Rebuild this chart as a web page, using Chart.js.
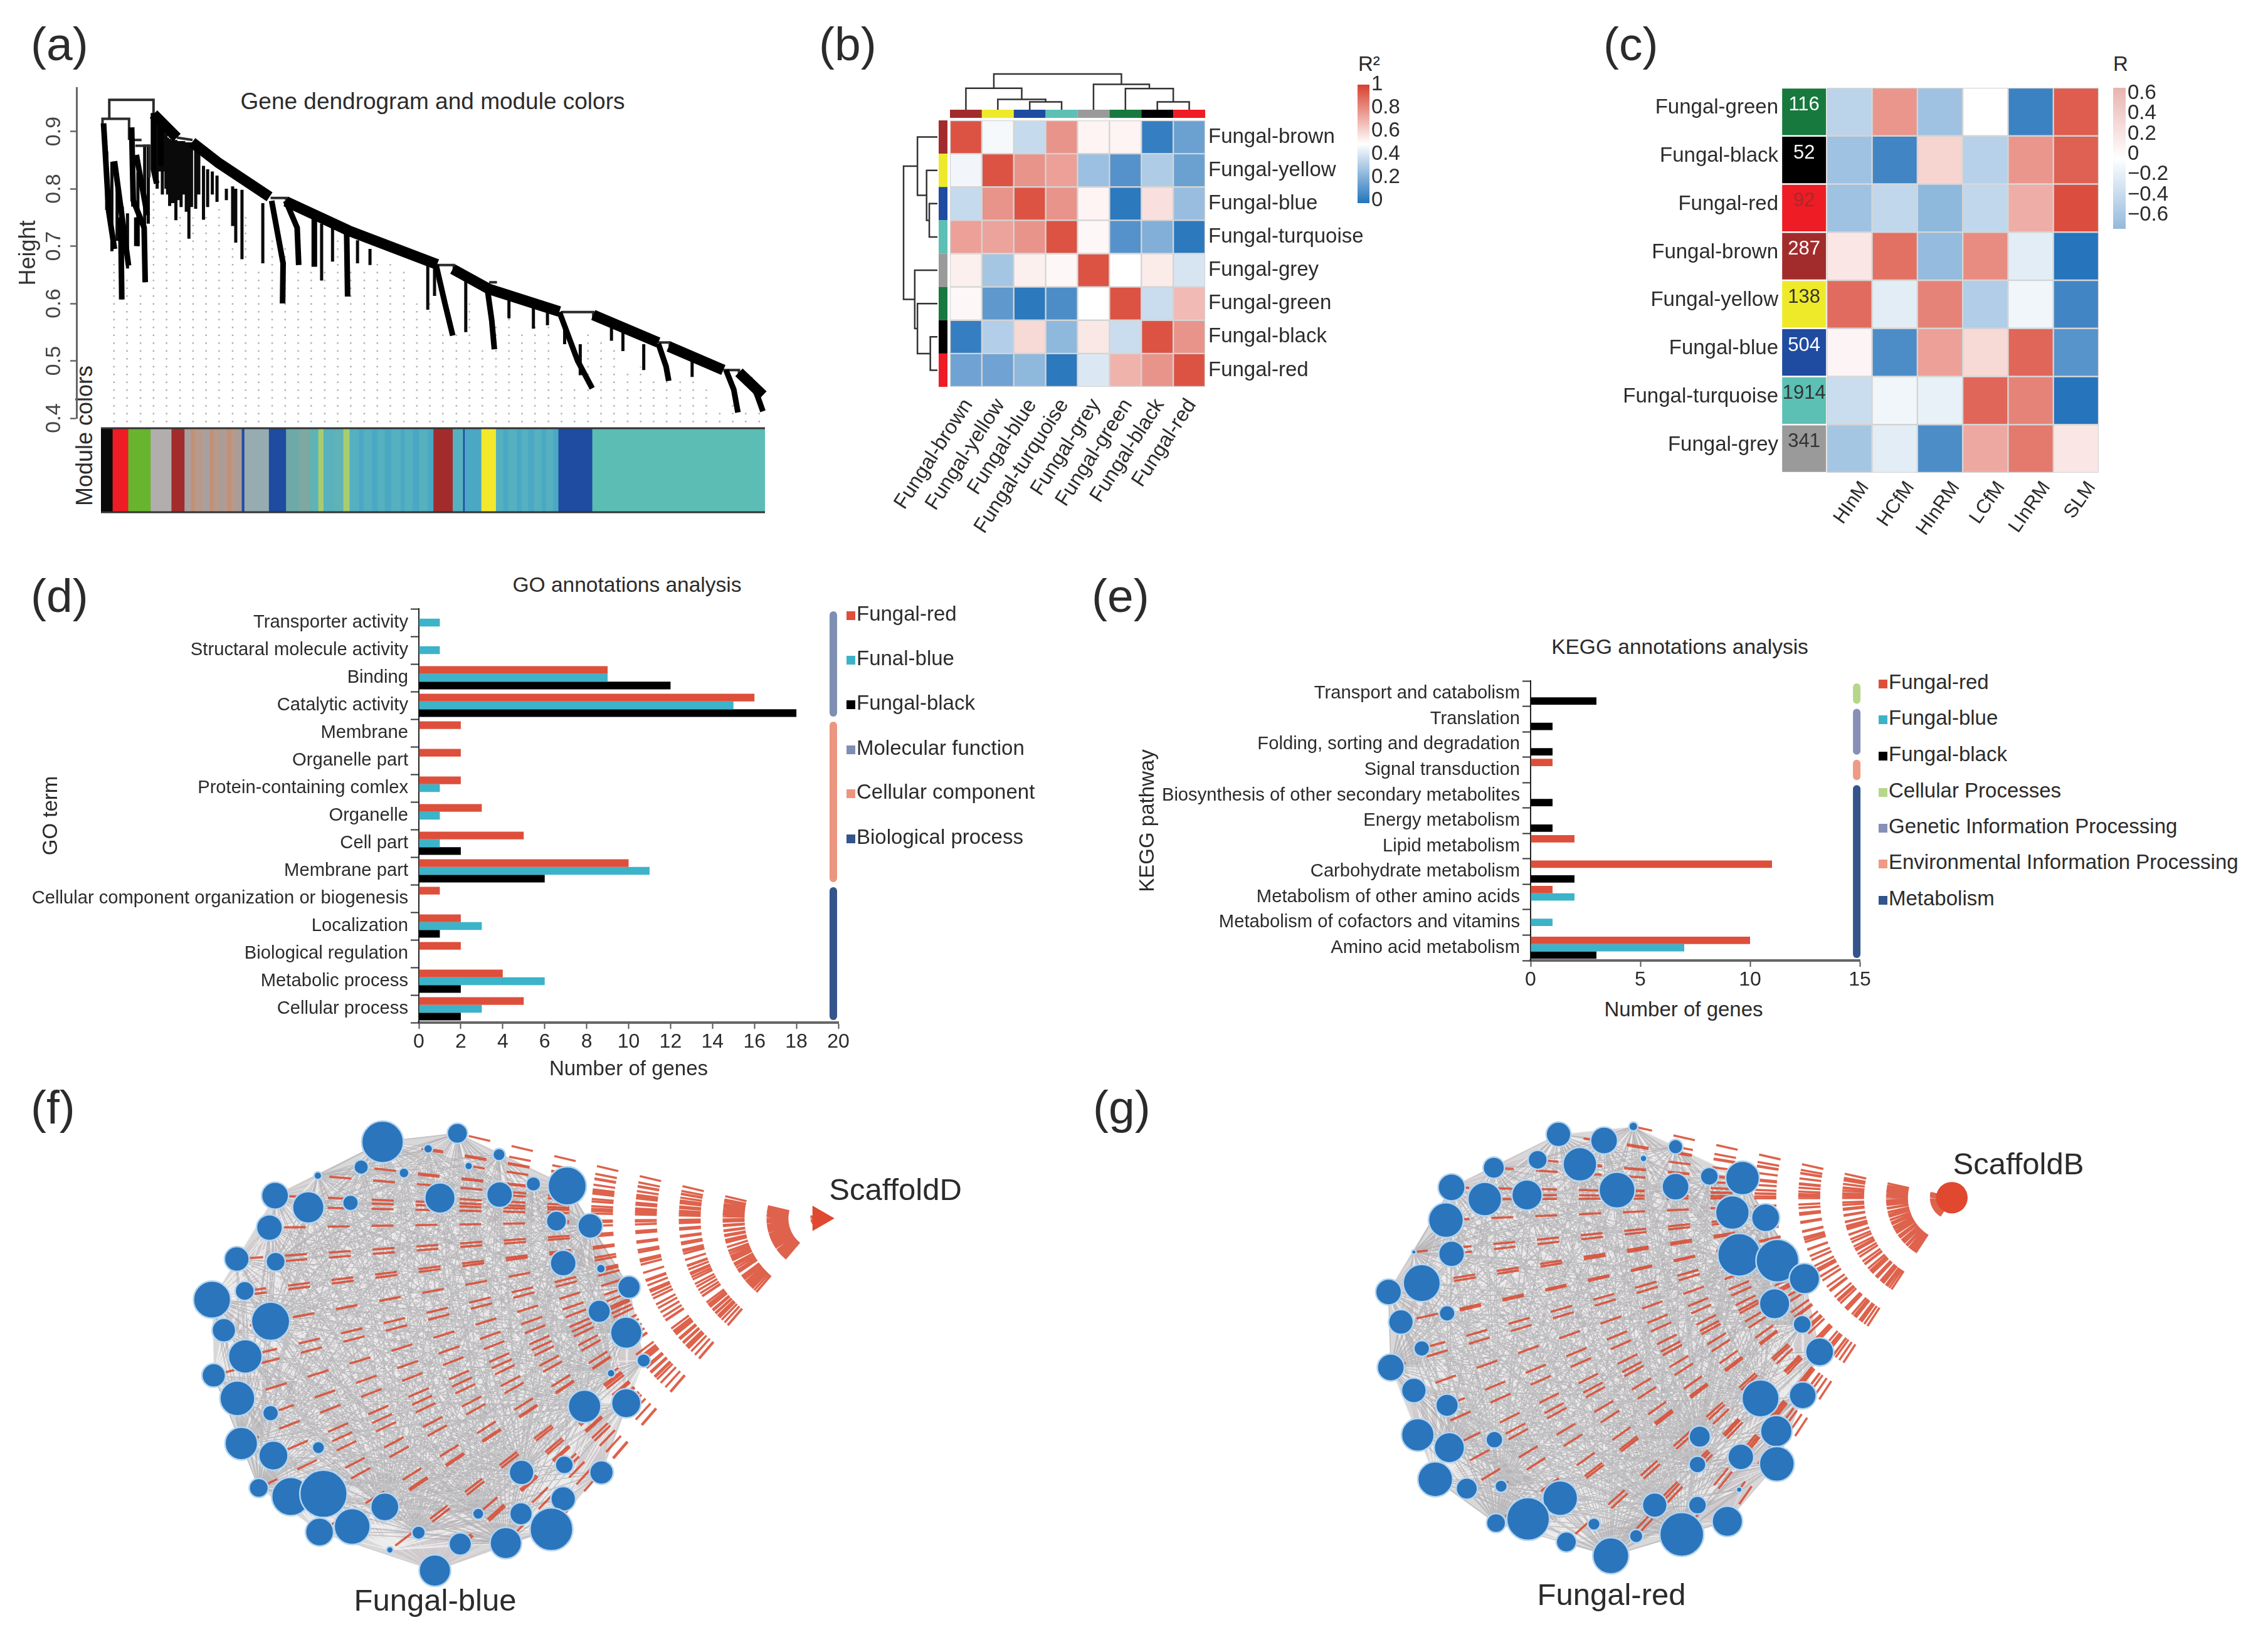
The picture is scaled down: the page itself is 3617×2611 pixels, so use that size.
<!DOCTYPE html>
<html>
<head>
<meta charset="utf-8">
<style>
  html, body { margin: 0; padding: 0; background: #fff; }
  #fig { position: relative; width: 3617px; height: 2611px; overflow: hidden; font-family: "Liberation Sans", Arial, sans-serif; color: #2b2b2b; }
  #fig canvas { position: absolute; }
  #fig .txt { position: absolute; white-space: nowrap; line-height: 1; }
  #fig .sq { position: absolute; width: 14px; height: 14px; }
</style>
<script src="https://cdn.jsdelivr.net/npm/chart.js@4.4.0/dist/chart.umd.js"></script>
</head>
<body>
<div id="fig"></div>
<script>
// (a) dendrogram, heights
const heightTicks = [0.4, 0.5, 0.6, 0.7, 0.8, 0.9];
const backbones = [
  [[295, .93], [340, .889]],
  [[369, .881], [420, .845], [518, .786]],
  [[549, .778], [670, .727], [840, .668]],
  [[870, .66], [940, .625], [1075, .586]],
  [[1140, .58], [1265, .532]],
  [[1285, .525], [1390, .484]],
  [[1420, .48], [1466, .44]]
];
const heavyArcs = [
  [[199, .914], [209, .76], [220, .695]],
  [[220, .848], [232, .768], [247, .666]],
  [[232, .75], [234, .607]],
  [[253, .907], [256, .78], [277, .732], [279, .637]],
  [[262, .859], [283, .754]],
  [[263, .75], [263, .70]],
  [[295, .932], [295, .834], [301, .809]],
  [[309, .914], [309, .84]],
  [[522, .779], [544, .67], [543, .60]],
  [[549, .779], [571, .732], [574, .667]],
  [[604, .75], [604, .664]],
  [[666, .732], [668, .612]],
  [[838, .667], [855, .60], [870, .544]],
  [[935, .635], [945, .57], [950, .52]],
  [[1075, .585], [1110, .50], [1138, .452]],
  [[1265, .53], [1280, .49], [1285, .465]],
  [[1395, .484], [1410, .45], [1418, .41]],
  [[1440, .47], [1455, .44], [1466, .412]]
];
const frameLines = [
  [[197, .91], [197, .922], [248, .922], [248, .885]],
  [[210, .922], [210, .955], [295, .955], [295, .93]],
  [[255, .885], [272, .885]],
  [[260, .875], [287, .875], [287, .82]],
  [[340, .889], [370, .885]],
  [[520, .784], [550, .784], [550, .775]],
  [[838, .667], [872, .667], [872, .655]],
  [[940, .637], [955, .637]],
  [[1078, .585], [1140, .585], [1140, .575]],
  [[1265, .532], [1287, .532], [1287, .52]],
  [[1390, .484], [1420, .484], [1420, .475]]
];
const branchX = [205, 215, 225, 235, 245, 255, 265, 278, 285, 302, 306, 312, 315, 319, 322, 326, 328, 333, 338, 343, 348, 353, 358, 363, 368, 376, 382, 391, 399, 408, 417, 435, 447, 453, 465, 505, 618, 639, 687, 711, 822, 835, 895, 978, 1025, 1052, 1085, 1115, 1175, 1197, 1237, 1330];
const branchTop = [.865, .847, .805, .769, .757, .889, .829, .877, .877, .925, .92, .915, .90, .895, .889, .887, .885, .885, .885, .883, .883, .883, .881, .881, .881, .878, .87, .84, .834, .83, .823, .80, .804, .80, .798, .775, .739, .732, .71, .695, .667, .661, .649, .607, .595, .589, .559, .529, .571, .562, .529, .505];
const branchBottom = [.763, .691, .709, .607, .661, .769, .700, .637, .739, .80, .83, .79, .83, .80, .79, .77, .775, .775, .745, .78, .768, .79, .76, .713, .768, .765, .79, .746, .768, .79, .777, .78, .735, .706, .677, .67, .64, .673, .67, .667, .589, .613, .550, .574, .556, .562, .529, .475, .535, .517, .484, .472];
const guideX = [219, 244, 270, 295, 320, 346, 371, 396, 421, 447, 472, 497, 523, 548, 573, 598, 624, 649, 674, 700, 725, 750, 776, 801, 826, 851, 877, 902, 927, 953, 978, 1003, 1028, 1054, 1079, 1104, 1130, 1155, 1180, 1206, 1231, 1256, 1281, 1307, 1332, 1357, 1383, 1408, 1433, 1459];
const guideTop = [.68, .65, .62, .80, .76, .76, .75, .76, .77, .70, .76, .66, .72, .70, .66, .66, .66, .72, .66, .66, .68, .67, .66, .60, .60, .55, .55, .60, .52, .57, .59, .555, .56, .57, .50, .46, .55, .535, .52, .485, .49, .47, .48, .47, .47, .45, .41, .43, .41, .41];
const stripModules = ['black', 'red', 'lime', 'greyLight', 'brown',
  'greyA', 'greyC', 'greyB', 'greyD', 'greyA', 'greyC', 'greyB', 'greyE', 'greyD', 'greyC', 'greyB', 'greyE',
  'blue', 'greyTeal', 'blue', 'tealA', 'tealB', 'tealC', 'olive', 'tealD', 'tealC', 'olive',
  'skyA', 'skyB', 'skyA', 'skyB', 'skyA', 'skyB', 'skyA', 'skyB', 'skyA', 'skyB', 'skyA', 'skyB',
  'brown', 'skyA', 'blue', 'skyB', 'yellow',
  'skyA', 'skyB', 'skyA', 'skyB', 'skyA', 'skyB', 'skyA', 'skyB', 'skyA', 'skyB',
  'blue', 'turquoise'];
const stripWidths = [22, 30, 43, 40, 25,
  12, 8, 10, 8, 10, 8, 10, 8, 8, 8, 8, 12,
  5, 47, 33, 25, 20, 17, 10, 20, 18, 12,
  18, 9, 16, 11, 14, 12, 18, 8, 15, 13, 16, 11,
  37, 20, 3, 32, 28,
  14, 10, 16, 9, 13, 11, 15, 8, 14, 10,
  65, 332];

// (b) module correlation, R squared
const moduleNames = ['Fungal-brown', 'Fungal-yellow', 'Fungal-blue', 'Fungal-turquoise', 'Fungal-grey', 'Fungal-green', 'Fungal-black', 'Fungal-red'];
const brownRow = [.95, .48, .37, .78, .53, .53, .05, .17];
const yellowRow = [.47, .95, .78, .75, .28, .12, .32, .17];
const blueRow = [.37, .78, .95, .78, .53, .03, .58, .27];
const turquoiseRow = [.75, .74, .78, .95, .52, .12, .22, .03];
const greyRow = [.54, .30, .54, .52, .95, .50, .55, .41];
const greenRow = [.52, .14, .03, .10, .50, .95, .38, .68];
const blackRow = [.05, .33, .60, .25, .56, .38, .95, .78];
const redRow = [.18, .18, .25, .03, .42, .70, .78, .95];
const r2Rows = [brownRow, yellowRow, blueRow, turquoiseRow, greyRow, greenRow, blackRow, redRow];
const r2Ticks = [0, 0.2, 0.4, 0.6, 0.8, 1];
// [leaf a, leaf b, height a, height b, merge height]
const topMerges = [[2.5, 3.5, 0, 0, .22], [1.5, 3, 0, .22, .29], [.5, 2.25, 0, .29, .6], [6.5, 7.5, 0, 0, .22], [5.5, 7, 0, .22, .59], [4.5, 6.25, 0, .59, .71], [1.375, 5.375, .6, .71, 1]];
const sideMerges = [[2.5, 3.5, 0, 0, .24], [1.5, 3, 0, .24, .32], [.5, 2.25, 0, .32, .59], [6.5, 7.5, 0, 0, .21], [5.5, 7, 0, .21, .59], [4.5, 6.25, 0, .59, .67], [1.375, 5.375, .59, .67, 1]];

// (c) module vs compartment, R
const traitNames = ['', 'HInM', 'HCfM', 'HInRM', 'LCfM', 'LInRM', 'SLM'];
const traitModules = ['Fungal-green', 'Fungal-black', 'Fungal-red', 'Fungal-brown', 'Fungal-yellow', 'Fungal-blue', 'Fungal-turquoise', 'Fungal-grey'];
const moduleGenes = [116, 52, 92, 287, 138, 504, 1914, 341];
const traitR = [
  [-.24, .44, -.34, 0, -.70, .68],
  [-.34, -.68, .18, -.26, .44, .66],
  [-.34, -.22, -.40, -.22, .34, .74],
  [.10, .60, -.38, .48, -.10, -.78],
  [.62, -.10, .52, -.28, -.05, -.68],
  [.04, -.64, .40, .16, .64, -.60],
  [-.19, -.05, -.08, .64, .52, -.78],
  [-.32, -.10, -.64, .36, .56, .10]
];
const rTicks = [-0.6, -0.4, -0.2, 0, 0.2, 0.4, 0.6];

// (d) GO terms
const goTerms = ['Transporter activity', 'Structaral molecule activity', 'Binding', 'Catalytic activity', 'Membrane', 'Organelle part', 'Protein-containing comlex', 'Organelle', 'Cell part', 'Membrane part', 'Cellular component organization or biogenesis', 'Localization', 'Biological regulation', 'Metabolic process', 'Cellular process'];
const goRed = [0, 0, 9, 16, 2, 2, 2, 3, 5, 10, 1, 2, 2, 4, 5];
const goBlue = [1, 1, 9, 15, 0, 0, 1, 1, 1, 11, 0, 3, 0, 6, 3];
const goBlack = [0, 0, 12, 18, 0, 0, 0, 0, 2, 6, 0, 1, 0, 2, 2];
const goSeries = ['Fungal-red', 'Funal-blue', 'Fungal-black'];
const goClasses = ['Molecular function', 'Cellular component', 'Biological process'];
const goClassFirst = [0, 4, 10];
const goClassLast = [3, 9, 14];

// (e) KEGG pathways
const keggTerms = ['Transport and catabolism', 'Translation', 'Folding, sorting and degradation', 'Signal transduction', 'Biosynthesis of other secondary metabolites', 'Energy metabolism', 'Lipid metabolism', 'Carbohydrate metabolism', 'Metabolism of other amino acids', 'Metabolism of cofactors and vitamins', 'Amino acid metabolism'];
const keggRed = [0, 0, 0, 1, 0, 0, 2, 11, 1, 0, 10];
const keggBlue = [0, 0, 0, 0, 0, 0, 0, 0, 2, 1, 7];
const keggBlack = [3, 1, 1, 0, 1, 1, 0, 2, 0, 0, 3];
const keggSeries = ['Fungal-red', 'Fungal-blue', 'Fungal-black'];
const keggClasses = ['Cellular Processes', 'Genetic Information Processing', 'Environmental Information Processing', 'Metabolism'];
const keggClassFirst = [0, 1, 3, 4];
const keggClassLast = [0, 2, 3, 10];

// (f) Fungal-blue network
const blueNodeX = [457, 590, 538, 664, 419, 495, 610, 342, 725, 785, 665, 559, 266, 325, 400, 766, 826, 256, 198, 267, 778, 845, 895, 154, 212, 258, 842, 175, 890, 213, 921, 863, 157, 199, 816, 890, 258, 206, 263, 343, 704, 780, 846, 237, 294, 352, 461, 778, 703, 627, 345, 403, 521, 757, 595, 676, 470, 550];
const blueNodeY = [130, 105, 150, 167, 203, 220, 200, 228, 252, 258, 283, 293, 286, 320, 307, 360, 374, 379, 470, 478, 482, 498, 552, 588, 563, 651, 622, 677, 684, 753, 765, 802, 808, 875, 898, 889, 918, 1006, 1041, 1018, 1090, 1068, 1090, 1135, 1160, 1152, 1190, 1167, 1210, 1210, 1263, 1247, 1265, 1255, 1298, 1295, 1315, 1375];
const blueNodeR = [37, 18, 8, 11, 13, 9, 7, 7, 13, 34, 23, 27, 24, 28, 14, 18, 22, 23, 22, 17, 23, 8, 20, 33, 17, 34, 20, 21, 28, 30, 12, 7, 21, 31, 29, 26, 14, 29, 26, 11, 22, 16, 21, 17, 34, 42, 25, 22, 20, 10, 25, 32, 12, 38, 20, 28, 6, 28];
const scaffoldD = [1234, 352, 26];

// (g) Fungal-red network
const redNodeX = [541, 622, 674, 749, 504, 692, 426, 579, 868, 809, 645, 749, 351, 410, 485, 850, 909, 341, 351, 284, 862, 930, 978, 298, 239, 925, 343, 261, 974, 298, 1005, 243, 284, 343, 900, 975, 291, 347, 427, 928, 792, 865, 929, 788, 322, 378, 439, 544, 862, 712, 788, 487, 430, 604, 841, 760, 555, 679, 634];
const redNodeY = [108, 126, 85, 144, 182, 178, 205, 195, 235, 230, 270, 260, 262, 296, 284, 335, 350, 357, 455, 450, 458, 475, 527, 540, 566, 600, 628, 653, 660, 730, 740, 785, 852, 895, 875, 866, 981, 1018, 995, 970, 986, 1045, 1065, 1067, 1110, 1137, 1130, 1165, 1140, 1185, 1185, 1225, 1237, 1240, 1232, 1270, 1292, 1275, 1332];
const redNodeR = [22, 24, 8, 13, 17, 6, 19, 30, 30, 16, 32, 24, 24, 30, 27, 30, 25, 31, 23, 4, 38, 38, 27, 33, 23, 27, 14, 22, 16, 14, 25, 24, 22, 20, 33, 24, 29, 27, 15, 28, 19, 23, 31, 15, 31, 19, 11, 31, 5, 22, 16, 38, 17, 11, 27, 39, 18, 12, 32];
const scaffoldB = [1240, 292, 28];

const fig = document.getElementById('fig');
Chart.defaults.font.family = '"Liberation Sans", Arial, sans-serif';
Chart.defaults.color = '#2b2b2b';

const moduleColor = {
  'Fungal-brown': '#a22c2c', 'Fungal-yellow': '#eeea2a', 'Fungal-blue': '#1f4ba0', 'Fungal-turquoise': '#5cc0b4',
  'Fungal-grey': '#9a9a9a', 'Fungal-green': '#17793d', 'Fungal-black': '#000000', 'Fungal-red': '#ee1c25'
};
const stripPalette = {
  black: '#0a0a0a', red: '#ee1c25', lime: '#68b42e', greyLight: '#b3aeae', brown: '#a22c2c', greyA: '#a8a0a0', greyB: '#b89a8a', greyC: '#c09078', greyD: '#b39b92', greyE: '#aa9c98',
  blue: '#1f4ba0', greyTeal: '#96acb0', tealA: '#6ea9a8', tealB: '#7fa8a0', tealC: '#5fb2b5', tealD: '#5ab0bd', olive: '#a8cc70', skyA: '#55b0c0', skyB: '#4aa8c4', yellow: '#f3e92c', turquoise: '#5cbdb4'
};
const seriesRed = '#dd4f3b', seriesBlue = '#3db3c9', seriesBlack = '#000000';
const classColors = ['#7f8fb3', '#ec9580', '#34548c'];
const keggClassColors = ['#b6d68a', '#8690b8', '#ee9a85', '#34548c'];

function addText(str, x, y, size, o) {
  o = o || {};
  const d = document.createElement('div');
  d.className = 'txt';
  d.textContent = str;
  d.style.left = x + 'px';
  d.style.top = y + 'px';
  d.style.fontSize = size + 'px';
  const ax = o.anchor === 'center' ? '-50%' : (o.anchor === 'right' ? '-100%' : '0');
  d.style.transform = `translate(${ax}, -50%)` + (o.rotate ? ` rotate(${o.rotate}deg)` : '');
  fig.appendChild(d);
}

// canvas around a plot box, m = margins kept for axes
function addCanvas(l, t, r, b, m) {
  m = Object.assign({ left: 0, right: 0, top: 0, bottom: 0 }, m);
  const c = document.createElement('canvas');
  c.width = r - l + m.left + m.right;
  c.height = b - t + m.top + m.bottom;
  c.style.left = (l - m.left) + 'px';
  c.style.top = (t - m.top) + 'px';
  fig.appendChild(c);
  return c;
}

const fitBox = size => s => {
  if (s.isHorizontal()) s.height = size; else s.width = size;
  s.paddingLeft = s.paddingRight = s.paddingTop = s.paddingBottom = 0;
};

const baseOpts = o => Object.assign({
  responsive: false, animation: false, events: [], devicePixelRatio: 1
}, o, {
  layout: Object.assign({ autoPadding: false }, o.layout),
  plugins: Object.assign({ legend: { display: false }, tooltip: { enabled: false } }, o.plugins)
});

const polylines = list => list.flatMap(line => [...line.map(p => ({ x: p[0], y: p[1] })), { x: NaN, y: NaN }]);
const lineSet = (data, color, width, extra) => Object.assign({
  data, borderColor: color, borderWidth: width, showLine: true, pointRadius: 0, fill: false, clip: false
}, extra);

function mix(a, b, t) {
  const p = h => [1, 3, 5].map(i => parseInt(h.substr(i, 2), 16));
  const ca = p(a), cb = p(b);
  return `rgb(${ca.map((v, i) => Math.round(v + (cb[i] - v) * t)).join(',')})`;
}
const ramp = t => t >= 0 ? mix('#ffffff', '#d8402f', Math.min(t, 1)) : mix('#ffffff', '#1f70ba', Math.min(-t, 1));

// ---------- (a) ----------
addText('(a)', 49, 70, 75);
addText('Gene dendrogram and module colors', 690, 161, 37, { anchor: 'center' });
addText('Module colors', 135, 695, 36, { anchor: 'center', rotate: -90 });

const rotatedTicks = {
  id: 'rotatedTicks',
  afterDraw(chart) {
    const { ctx, scales: { y } } = chart;
    heightTicks.forEach(v => {
      ctx.save();
      ctx.translate(87, y.getPixelForValue(v));
      ctx.rotate(-Math.PI / 2);
      ctx.font = '34px "Liberation Sans"';
      ctx.fillStyle = '#444';
      ctx.textAlign = 'center';
      ctx.textBaseline = 'middle';
      ctx.fillText(String(v), 0, 0);
      ctx.restore();
    });
  }
};

new Chart(addCanvas(122, 140, 1220, 667, { left: 122, top: 2, bottom: 32, right: 10 }), {
  type: 'scatter',
  data: {
    datasets: [
      lineSet(polylines(backbones), '#000', 17, { order: 1 }),
      lineSet(polylines(heavyArcs), '#000', 9, { order: 2 }),
      lineSet(polylines(frameLines), '#2c2c2c', 4, { order: 3 }),
      lineSet(polylines(branchX.map((x, i) => [[x, branchTop[i]], [x, branchBottom[i]]])), '#0a0a0a', 5, { order: 4 }),
      lineSet(polylines(guideX.map((x, i) => [[x, .393], [x, guideTop[i]]])), '#b0b0b0', 2.5, { order: 5, borderDash: [2.5, 10] })
    ]
  },
  options: baseOpts({
    layout: { padding: { top: 2, bottom: 32, right: 10 } },
    scales: {
      x: { type: 'linear', display: false, min: 147, max: 1470 },
      y: {
        min: .4, max: .976,
        afterFit: fitBox(122),
        afterBuildTicks: s => { s.ticks = heightTicks.map(value => ({ value })); },
        ticks: { display: false },
        grid: { display: true, drawOnChartArea: false, tickLength: 10, tickColor: '#666', tickWidth: 2.5 },
        border: { color: '#666', width: 3 },
        title: { display: true, text: 'Height', font: { size: 36 }, color: '#333', padding: { top: 24, bottom: 0 } }
      }
    }
  }),
  plugins: [rotatedTicks]
});

const stripFrame = {
  id: 'stripFrame',
  afterDraw(chart) {
    const { ctx, chartArea: a } = chart;
    ctx.save();
    ctx.strokeStyle = '#333';
    ctx.lineWidth = 3;
    ctx.beginPath();
    ctx.moveTo(a.left, a.top); ctx.lineTo(a.right, a.top);
    ctx.moveTo(a.left, a.bottom); ctx.lineTo(a.right, a.bottom);
    ctx.stroke();
    ctx.restore();
  }
};

new Chart(addCanvas(161, 683, 1220, 817, { top: 2, bottom: 2 }), {
  type: 'bar',
  data: {
    labels: ['Module colors'],
    datasets: stripModules.map((m, i) => ({ data: [stripWidths[i]], backgroundColor: stripPalette[m], barPercentage: 1, categoryPercentage: 1, stack: 'modules' }))
  },
  options: baseOpts({
    indexAxis: 'y',
    layout: { padding: { top: 2, bottom: 2 } },
    scales: {
      x: { display: false, stacked: true, min: 0, max: 1275 },
      y: { display: false, stacked: true }
    }
  }),
  plugins: [stripFrame]
});

// ---------- (b) ----------
addText('(b)', 1306, 70, 75);
addText('R²', 2166, 101, 33);

const moduleStrips = {
  id: 'moduleStrips',
  beforeDraw(chart) {
    const { ctx, scales: { x, y }, chartArea: a } = chart;
    const w = x.getPixelForValue(1) - x.getPixelForValue(0);
    const h = y.getPixelForValue(1) - y.getPixelForValue(0);
    moduleNames.forEach((m, i) => {
      ctx.fillStyle = moduleColor[m];
      ctx.fillRect(x.getPixelForValue(i) - w / 2, a.top - 17, w, 13);
      ctx.fillRect(a.left - 18, y.getPixelForValue(i), 14, h);
    });
  }
};

new Chart(addCanvas(1515, 192, 1922, 617, { left: 120, top: 20, right: 270, bottom: 240 }), {
  type: 'bar',
  data: {
    labels: moduleNames,
    datasets: r2Rows.map(row => ({
      data: row.map(() => 1),
      backgroundColor: row.map(v => ramp((v - .5) * 2)),
      borderColor: '#d4d4d4', borderWidth: 1.5, borderSkipped: false,
      barPercentage: 1, categoryPercentage: 1
    }))
  },
  options: baseOpts({
    layout: { padding: { left: 120, top: 20 } },
    scales: {
      x: {
        stacked: true,
        afterFit: fitBox(240),
        grid: { display: false, drawTicks: false }, border: { display: false },
        ticks: { autoSkip: false, minRotation: 57, maxRotation: 57, font: { size: 33 }, padding: 12, labelOffset: 4 }
      },
      y: {
        stacked: true, position: 'right', min: 0, max: 8, reverse: true,
        afterFit: fitBox(270),
        afterBuildTicks: s => { s.ticks = moduleNames.map((_, i) => ({ value: i + .5 })); },
        grid: { display: false, drawTicks: false }, border: { display: false },
        ticks: { autoSkip: false, font: { size: 33 }, padding: 5, callback: v => moduleNames[Math.floor(v)] }
      }
    }
  }),
  plugins: [moduleStrips]
});

function dendroChart(canvas, merges, sideways) {
  const lines = merges.map(m => {
    const u = [[m[0], m[2]], [m[0], m[4]], [m[1], m[4]], [m[1], m[3]]];
    return sideways ? u.map(p => [p[1], p[0]]) : u;
  });
  const leafAxis = { type: 'linear', display: false, min: 0, max: 8, reverse: sideways };
  const heightAxis = { type: 'linear', display: false, min: 0, max: 1, reverse: sideways };
  new Chart(canvas, {
    type: 'scatter',
    data: { datasets: [lineSet(polylines(lines), '#333', 2.5)] },
    options: baseOpts({
      layout: { padding: 2 },
      scales: sideways ? { x: heightAxis, y: leafAxis } : { x: leafAxis, y: heightAxis }
    })
  });
}
dendroChart(addCanvas(1513, 116, 1924, 177), topMerges, false);
dendroChart(addCanvas(1439, 190, 1497, 619), sideMerges, true);

function colorBar(l, t, r, b, lo, hi, stops, ticks, fmt) {
  new Chart(addCanvas(l, t, r, b, { right: 110, top: 20, bottom: 20 }), {
    type: 'bar',
    data: {
      labels: ['scale'],
      datasets: [{
        data: [[lo, hi]], barPercentage: 1, categoryPercentage: 1, borderSkipped: false,
        backgroundColor: c => {
          const a = c.chart.chartArea;
          if (!a) return stops[0];
          const g = c.chart.ctx.createLinearGradient(0, a.bottom, 0, a.top);
          stops.forEach((s, i) => g.addColorStop(i / (stops.length - 1), s));
          return g;
        }
      }]
    },
    options: baseOpts({
      layout: { padding: { top: 20, bottom: 20 } },
      scales: {
        x: { display: false },
        y: {
          position: 'right', min: lo, max: hi,
          afterFit: fitBox(110),
          afterBuildTicks: s => { s.ticks = ticks.map(value => ({ value })); },
          grid: { display: false, drawTicks: false }, border: { display: false },
          ticks: { autoSkip: false, font: { size: 33 }, padding: 3, callback: fmt }
        }
      }
    })
  });
}
colorBar(2165, 135, 2184, 324, -.02, 1, ['#2474bb', '#ffffff', '#d8402f'], r2Ticks, v => String(v));

// ---------- (c) ----------
addText('(c)', 2557, 70, 75);
addText('R', 3370, 101, 33);

const geneCounts = {
  id: 'geneCounts',
  afterDatasetsDraw(chart) {
    const { ctx } = chart;
    moduleGenes.forEach((n, i) => {
      const cell = chart.getDatasetMeta(i).data[0].getCenterPoint();
      const name = traitModules[i];
      ctx.font = '31px "Liberation Sans"';
      ctx.textAlign = 'center';
      ctx.textBaseline = 'middle';
      ctx.fillStyle = name === 'Fungal-red' ? '#a52a2a' : (['Fungal-yellow', 'Fungal-turquoise', 'Fungal-grey'].includes(name) ? '#333' : '#fff');
      ctx.fillText(String(n), cell.x, cell.y - 11);
    });
  }
};

new Chart(addCanvas(2841, 140, 3347, 754, { left: 300, bottom: 130 }), {
  type: 'bar',
  data: {
    labels: traitNames,
    datasets: traitR.map((row, i) => ({
      data: [1, ...row.map(() => 1)],
      backgroundColor: [moduleColor[traitModules[i]], ...row.map(v => ramp(v / .8))],
      borderColor: ['rgba(0,0,0,0)', ...row.map(() => '#d4d4d4')], borderWidth: 1.5, borderSkipped: false,
      barPercentage: 1, categoryPercentage: 1
    }))
  },
  options: baseOpts({
    scales: {
      x: {
        stacked: true,
        afterFit: fitBox(130),
        grid: { display: false, drawTicks: false }, border: { display: false },
        ticks: { autoSkip: false, minRotation: 55, maxRotation: 55, font: { size: 31 }, padding: 7, labelOffset: 25 }
      },
      y: {
        stacked: true, min: 0, max: 8, reverse: true,
        afterFit: fitBox(300),
        afterBuildTicks: s => { s.ticks = traitModules.map((_, i) => ({ value: i + .42 })); },
        grid: { display: false, drawTicks: false }, border: { display: false },
        ticks: { autoSkip: false, font: { size: 33 }, padding: 5, callback: v => traitModules[Math.floor(v)] }
      }
    }
  }),
  plugins: [geneCounts]
});

colorBar(3370, 140, 3390, 365, -.736, .656, ['#93b9dd', '#ffffff', '#e8b3ae'], rTicks, v => String(v).replace('-', '\u2212'));

// ---------- (d) / (e) ----------
function classBars(xValue, first, last, colors, width) {
  return {
    id: 'classBars',
    afterDatasetsDraw(chart) {
      const { ctx, scales: { x, y } } = chart;
      const row = y.getPixelForValue(1) - y.getPixelForValue(0);
      ctx.save();
      ctx.lineWidth = width;
      ctx.lineCap = 'round';
      first.forEach((f, i) => {
        ctx.strokeStyle = colors[i];
        ctx.beginPath();
        ctx.moveTo(x.getPixelForValue(xValue), y.getPixelForValue(f) - row / 2 + 10);
        ctx.lineTo(x.getPixelForValue(xValue), y.getPixelForValue(last[i]) + row / 2 - 10);
        ctx.stroke();
      });
      ctx.restore();
    }
  };
}

function barPanel(box, m, cfg) {
  new Chart(addCanvas(box[0], box[1], box[2], box[3], m), {
    type: 'bar',
    data: {
      labels: cfg.labels,
      datasets: cfg.series.map((s, i) => ({
        label: s, data: cfg.values[i], backgroundColor: [seriesRed, seriesBlue, seriesBlack][i],
        barPercentage: 1, categoryPercentage: cfg.group
      }))
    },
    options: baseOpts({
      indexAxis: 'y',
      layout: { padding: { right: m.right, top: m.top } },
      scales: {
        x: {
          min: 0, max: cfg.max,
          afterFit: fitBox(m.bottom),
          ticks: { stepSize: cfg.step, font: { size: 32 }, padding: 2, maxRotation: 0 },
          grid: { display: true, drawOnChartArea: false, tickLength: 10, tickColor: '#555', tickWidth: 2 },
          border: { color: '#666', width: 4 },
          title: { display: cfg.xTitle, text: 'Number of genes', font: { size: 33 }, padding: { top: 0, bottom: 0 } }
        },
        y: {
          afterFit: fitBox(m.left),
          ticks: { autoSkip: false, font: { size: 29.2 }, padding: 4 },
          grid: { display: true, drawOnChartArea: false, tickLength: 13, tickColor: '#333', tickWidth: 2 },
          border: { color: '#222', width: 2 },
          title: { display: true, text: cfg.yTitle, font: { size: 33 }, padding: { top: cfg.yTitlePad, bottom: 0 } }
        }
      }
    }),
    plugins: [classBars(cfg.classAt, cfg.first, cfg.last, cfg.colors, cfg.barWidth)]
  });
}

function legendList(names, colors, x, rows) {
  names.forEach((n, i) => {
    const s = document.createElement('div');
    s.className = 'sq';
    s.style.left = x + 'px';
    s.style.top = (rows[i] - 3) + 'px';
    s.style.background = colors[i];
    fig.appendChild(s);
    addText(n, x + 16, rows[i], 33);
  });
}

addText('(d)', 49, 950, 75);
addText('GO annotations analysis', 1000, 933, 33.5, { anchor: 'center' });
barPanel([668, 971, 1337, 1631], { left: 638, right: 30, top: 8, bottom: 95 }, {
  labels: goTerms, series: goSeries, values: [goRed, goBlue, goBlack], group: .84,
  max: 20, step: 2, xTitle: true, yTitle: 'GO term', yTitlePad: 32,
  classAt: 19.76, first: goClassFirst, last: goClassLast, colors: classColors, barWidth: 12
});
legendList([...goSeries, ...goClasses], [seriesRed, seriesBlue, seriesBlack, ...classColors], 1350, [978, 1049, 1120, 1192, 1262, 1334]);

addText('(e)', 1741, 950, 75);
addText('KEGG annotations analysis', 2679, 1032, 33.5, { anchor: 'center' });
addText('Number of genes', 2685, 1609, 33, { anchor: 'center' });
barPanel([2441, 1086, 2966, 1532], { left: 630, right: 30, top: 8, bottom: 60 }, {
  labels: keggTerms, series: keggSeries, values: [keggRed, keggBlue, keggBlack], group: .87,
  max: 15, step: 5, xTitle: false, yTitle: 'KEGG pathway', yTitlePad: 0,
  classAt: 14.86, first: keggClassFirst, last: keggClassLast, colors: keggClassColors, barWidth: 12
});
legendList([...keggSeries, ...keggClasses], [seriesRed, seriesBlue, seriesBlack, ...keggClassColors], 2996, [1087, 1144, 1202, 1260, 1317, 1374, 1432]);

// ---------- (f) / (g) ----------
// outer ring of the nodes, used for the grey base of the edge cloud
function outerRing(pts) {
  const s = [...pts].sort((a, b) => a.x - b.x || a.y - b.y);
  const half = list => {
    const out = [];
    list.forEach(p => {
      while (out.length > 1) {
        const a = out[out.length - 2], b = out[out.length - 1];
        if ((b.x - a.x) * (p.y - a.y) - (b.y - a.y) * (p.x - a.x) <= 0) out.pop(); else break;
      }
      out.push(p);
    });
    out.pop();
    return out;
  };
  return [...half(s), ...half([...s].reverse())];
}

function network(l, t, nodeX, nodeY, nodeR, hub, hubStyle, dashOffset) {
  const nodes = nodeX.map((x, i) => ({ x, y: nodeY[i] }));
  const peers = [[], [], []];
  nodes.forEach((a, i) => nodes.slice(i + 1).forEach((b, j) => peers[(i + j) % 3].push([[a.x, a.y], [b.x, b.y]])));
  const spokes = nodes.map(n => [[hub[0], hub[1]], [n.x, n.y]]);
  const ring = outerRing(nodes);
  const cloudBase = {
    id: 'cloudBase',
    beforeDatasetsDraw(chart) {
      const { ctx, scales: { x, y } } = chart;
      ctx.save();
      ctx.fillStyle = '#d9d8d9';
      ctx.beginPath();
      ring.forEach((p, i) => {
        const px = x.getPixelForValue(p.x), py = y.getPixelForValue(p.y);
        if (i) ctx.lineTo(px, py); else ctx.moveTo(px, py);
      });
      ctx.closePath();
      ctx.fill();
      ctx.restore();
    }
  };
  new Chart(addCanvas(l, t, l + 1400, t + 861), {
    type: 'scatter',
    data: {
      datasets: [
        { data: nodes, pointRadius: nodeR.map(r => r * .9), pointBackgroundColor: '#2a75bc', pointBorderColor: '#b5d5f0', pointBorderWidth: 2.5, order: 1 },
        { data: [{ x: hub[0], y: hub[1] }], pointRadius: hub[2] * .9, pointStyle: hubStyle, rotation: hubStyle === 'triangle' ? 90 : 0, pointBackgroundColor: '#e0482f', pointBorderWidth: 0, order: 2 },
        lineSet(polylines(spokes), 'rgba(216,70,45,0.85)', 3.5, { order: 3, borderDash: [35, 35], borderDashOffset: dashOffset, clip: true }),
        lineSet(polylines(peers[0]), 'rgba(165,165,168,0.6)', 1.6, { order: 4, clip: true }),
        lineSet(polylines(peers[1]), 'rgba(248,248,248,0.7)', 1.6, { order: 5, clip: true }),
        lineSet(polylines(peers[2]), 'rgba(200,190,195,0.6)', 1.6, { order: 6, clip: true })
      ]
    },
    options: baseOpts({
      scales: {
        x: { type: 'linear', display: false, min: 0, max: 1560 },
        y: { type: 'linear', display: false, min: 0, max: 1568, reverse: true }
      }
    }),
    plugins: [cloudBase]
  });
}

addText('(f)', 49, 1766, 75);
network(200, 1750, blueNodeX, blueNodeY, blueNodeR, scaffoldD, 'triangle', 20);
addText('ScaffoldD', 1428, 1897, 49, { anchor: 'center' });
addText('Fungal-blue', 694, 2552, 49, { anchor: 'center' });

addText('(g)', 1743, 1766, 75);
network(2000, 1750, redNodeX, redNodeY, redNodeR, scaffoldB, 'circle', 0);
addText('ScaffoldB', 3219, 1856, 49, { anchor: 'center' });
addText('Fungal-red', 2570, 2543, 49, { anchor: 'center' });
</script>
</body>
</html>
